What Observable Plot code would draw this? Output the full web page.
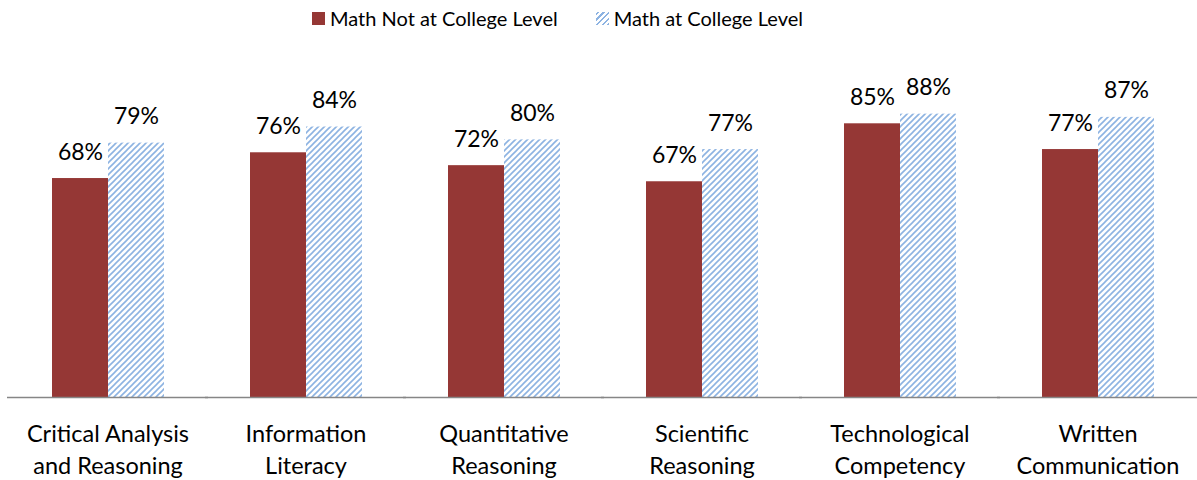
<!DOCTYPE html>
<html>
<head>
<meta charset="utf-8">
<script src="https://cdn.jsdelivr.net/npm/d3@7"></script>
<script src="https://cdn.jsdelivr.net/npm/@observablehq/plot@0.6"></script>
<style>
  html, body { margin: 0; padding: 0; background: #fff; }
  body { width: 1197px; height: 480px; overflow: hidden; font-family: Lato, "Open Sans", sans-serif; }
  #legend { height: 36px; display: flex; justify-content: center; align-items: center; gap: 38px; font-size: 20px; color: #000; padding-right: 82px; box-sizing: border-box; }
  #legend .item { display: flex; align-items: center; gap: 5px; }
  #legend .sw { width: 13px; height: 13px; display: inline-block; }
</style>
</head>
<body>
<div id="legend"></div>
<div id="chart"></div>
<script>
const categories = ["Critical Analysis\nand Reasoning", "Information\nLiteracy", "Quantitative\nReasoning", "Scientific\nReasoning", "Technological\nCompetency", "Written\nCommunication"];
const seriesNames = ["Math Not at College Level", "Math at College Level"];
const notCollege = [68, 76, 72, 67, 85, 77];
const atCollege = [79, 84, 80, 77, 88, 87];

const data = [];
categories.forEach((c, i) => {
  data.push({category: c, series: seriesNames[0], value: notCollege[i]});
  data.push({category: c, series: seriesNames[1], value: atCollege[i]});
});

const RED = "#953735";
const BLUE = "#8db3e2";

// Legend
const legend = document.getElementById("legend");
seriesNames.forEach((s, i) => {
  const item = document.createElement("div");
  item.className = "item";
  const sw = document.createElement("span");
  sw.className = "sw";
  if (i === 0) sw.style.background = RED;
  else sw.style.background = `repeating-linear-gradient(-45deg, ${BLUE} 0 1.5px, #fff 1.5px 4px)`;
  item.appendChild(sw);
  const t = document.createElement("span");
  t.textContent = s;
  item.appendChild(t);
  legend.appendChild(item);
});

const plot = Plot.plot({
  width: 1197,
  height: 444,
  marginTop: 39,
  marginBottom: 83,
  marginLeft: 8,
  marginRight: 1,
  style: {fontFamily: "Lato, 'Open Sans', sans-serif", background: "#fff"},
  fx: {domain: categories, paddingInner: 0.43, paddingOuter: 0.215, axis: null},
  x: {domain: seriesNames, padding: 0, axis: null},
  y: {domain: [0, 100], axis: null},
  color: {domain: seriesNames, range: [RED, "url(#hatch)"]},
  marks: [
    Plot.barY(data, {fx: "category", x: "series", y: "value", fill: "series"}),
    Plot.ruleY([0], {stroke: "#868686", strokeWidth: 1.5, insetLeft: -44, insetRight: -44}),
    Plot.text(data, {fx: "category", x: "series", y: "value", text: d => d.value + "%", lineAnchor: "bottom", dy: -19, fontSize: 23, fill: "#000"}),
    Plot.text(categories, {fx: d => d, text: d => d, frameAnchor: "bottom", lineAnchor: "top", dy: 22, fontSize: 23.5, lineHeight: 1.36, fill: "#000"})
  ]
});

const ns = "http://www.w3.org/2000/svg";
const defs = document.createElementNS(ns, "defs");
defs.innerHTML = `<pattern id="hatch" patternUnits="userSpaceOnUse" width="6" height="6">
  <rect width="6" height="6" fill="#fff"/>
  <path d="M-1,1 l2,-2 M0,6 l6,-6 M5,7 l2,-2" stroke="${BLUE}" stroke-width="1.6"/>
</pattern>`;
plot.insertBefore(defs, plot.firstChild);
document.getElementById("chart").appendChild(plot);
</script>
</body>
</html>
